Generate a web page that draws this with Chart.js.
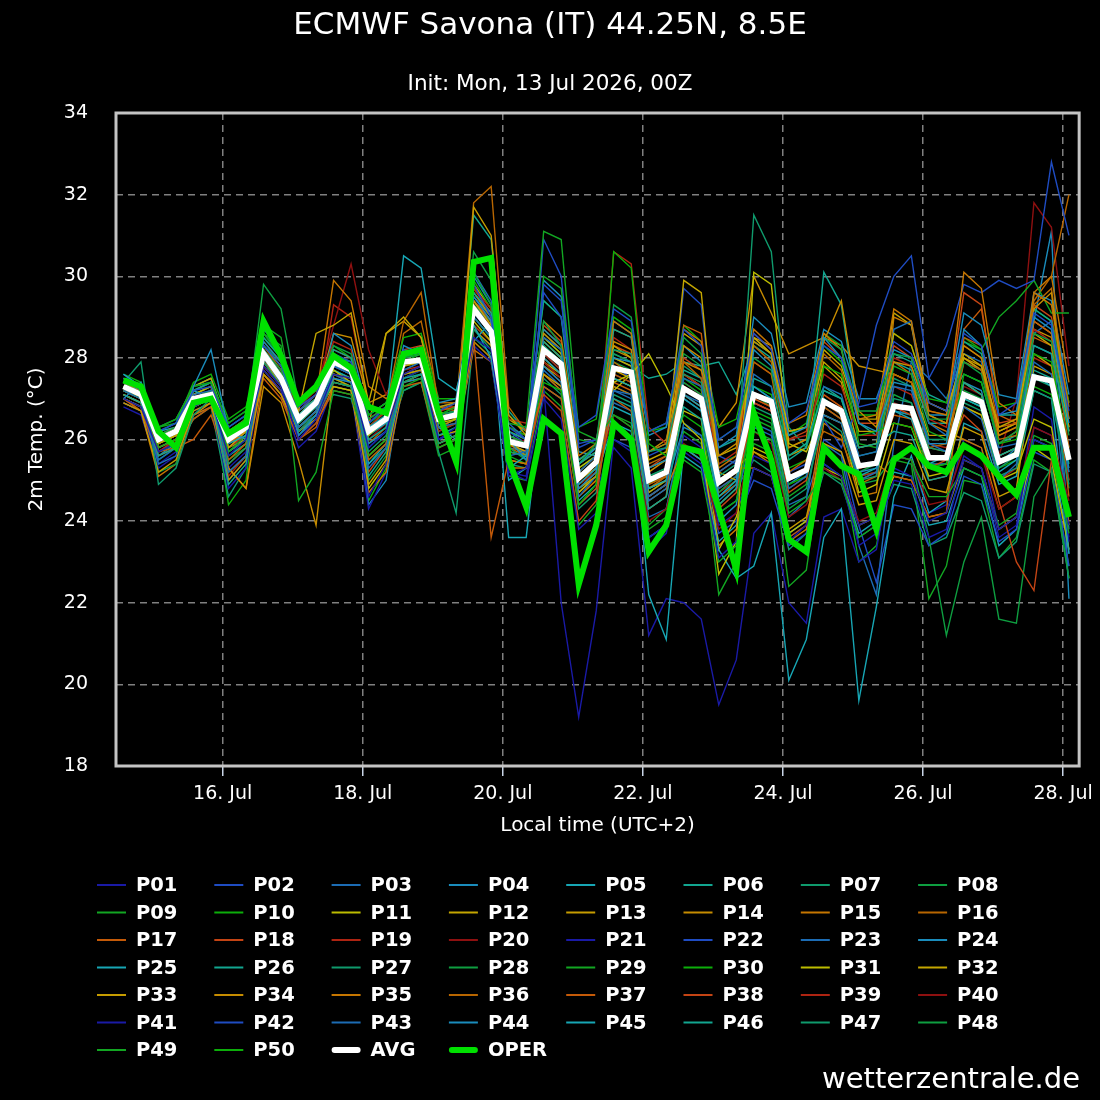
<!DOCTYPE html>
<html>
<head>
<meta charset="utf-8">
<title>ECMWF Savona (IT) ensemble</title>
<script src="https://cdn.jsdelivr.net/npm/chart.js@4.4.1/dist/chart.umd.min.js"></script>
<style>
  html, body { margin: 0; padding: 0; background: #000; }
  #wrap { width: 1100px; height: 1100px; }
</style>
</head>
<body>
<div id="wrap"><canvas id="ens" width="1100" height="1100"></canvas></div>
<script>
/* ECMWF ensemble plume, 2m temperature, Savona */
const FONT = "'DejaVu Sans', Verdana, sans-serif";

// hours since 14 Jul 00:00 local time, 6-hourly
const hours = [14, 20, 26, 32, 38, 44, 50, 56, 62, 68, 74, 80, 86, 92, 98, 104, 110, 116, 122, 128,
  134, 140, 146, 152, 158, 164, 170, 176, 182, 188, 194, 200, 206, 212, 218, 224, 230, 236, 242, 248,
  254, 260, 266, 272, 278, 284, 290, 296, 302, 308, 314, 320, 326, 332, 338];

const tickHours = [48, 96, 144, 192, 240, 288, 336];
const tickLabels = ['16. Jul', '18. Jul', '20. Jul', '22. Jul', '24. Jul', '26. Jul', '28. Jul'];

const memberNames = ['P01', 'P02', 'P03', 'P04', 'P05', 'P06', 'P07', 'P08', 'P09', 'P10',
  'P11', 'P12', 'P13', 'P14', 'P15', 'P16', 'P17', 'P18', 'P19', 'P20',
  'P21', 'P22', 'P23', 'P24', 'P25', 'P26', 'P27', 'P28', 'P29', 'P30',
  'P31', 'P32', 'P33', 'P34', 'P35', 'P36', 'P37', 'P38', 'P39', 'P40',
  'P41', 'P42', 'P43', 'P44', 'P45', 'P46', 'P47', 'P48', 'P49', 'P50'];

const avg = [27.3, 27.1, 26.0, 26.2, 27.0, 27.1, 26.0, 26.3, 28.1, 27.5, 26.5, 26.9, 27.9, 27.7, 26.2, 26.5,
  27.9, 27.95, 26.5, 26.6, 29.2, 28.65, 25.95, 25.85, 28.2, 27.85, 25.05, 25.45, 27.75, 27.65, 25.0, 25.2,
  27.25, 27.0, 24.95, 25.25, 27.1, 26.93, 25.05, 25.25, 26.93, 26.7, 25.35, 25.42, 26.82, 26.76, 25.55, 25.55,
  27.1, 26.92, 25.45, 25.63, 27.53, 27.44, 25.5];

const oper = [27.45, 27.3, 26.2, 25.8, 26.9, 27.0, 26.15, 26.4, 28.9, 28.05, 26.9, 27.3, 28.05, 27.75, 26.8, 26.65,
  28.1, 28.2, 26.65, 25.45, 30.35, 30.45, 25.5, 24.35, 26.5, 26.15, 22.45, 23.9, 26.4, 26.0, 23.25, 23.9,
  25.8, 25.7, 24.3, 22.8, 26.65, 25.5, 23.55, 23.25, 25.8, 25.35, 25.15, 23.8, 25.5, 25.8, 25.35, 25.2,
  25.85, 25.6, 25.1, 24.65, 25.8, 25.8, 24.1];

const P01 = [27.0,26.8,25.7,25.9, 26.8,27.0,25.6,26.0, 27.8,27.3,26.0,26.5, 27.6,27.5,25.8,26.2, 27.6,27.8,26.0,26.3, 28.5,28.2,25.2,25.0, 27.0,26.5,23.8,24.2, 26.3,26.0,23.3,23.7, 25.7,25.4,23.1,23.5, 25.3,25.1,23.5,23.9, 25.4,25.1,23.9,24.1, 25.3,25.1,24.0,24.2, 25.6,25.3,23.8,24.1, 26.0,25.8,23.9];
const P02 = [27.5,27.2,26.2,26.4, 27.2,27.3,26.3,26.6, 28.3,27.8,26.8,27.1, 28.1,27.9,26.4,26.8, 28.2,28.1,26.7,26.9, 29.8,29.0,26.3,26.0, 29.6,29.0,26.3,26.6, 29.2,28.9,26.2,26.4, 28.7,28.3,26.0,26.3, 28.6,28.2,26.4,26.7, 28.3,28.0,26.8,26.9, 28.4,28.1,26.9,26.7, 28.6,28.3,26.6,26.9, 29.1,28.8,26.7];
const P03 = [27.2,27.0,25.4,25.6, 27.1,27.2,25.2,25.6, 28.0,27.4,26.3,26.7, 27.8,27.6,25.3,25.8, 27.7,27.9,26.3,26.4, 29.0,28.5,25.6,25.7, 28.5,28.2,25.2,25.6, 27.2,27.0,24.6,24.9, 27.5,27.3,25.2,25.5, 27.6,27.3,24.8,25.1, 26.6,26.4,25.0,25.2, 27.3,27.2,25.9,25.7, 26.8,26.5,25.0,25.4, 27.9,27.6,25.2];
const P04 = [27.0,27.4,26.1,25.8, 27.3,28.2,26.2,26.0, 28.4,27.9,26.1,26.6, 27.5,27.4,25.9,26.2, 28.3,28.1,26.9,27.0, 29.5,28.9,26.0,25.5, 27.8,27.4,24.8,25.2, 28.0,27.9,25.3,25.5, 27.0,26.7,24.5,24.9, 28.2,27.8,26.1,26.3, 28.5,28.0,26.4,26.2, 27.4,27.3,25.9,25.9, 28.7,28.3,26.6,26.7, 29.0,28.7,26.4];
const P05 = [27.6,27.3,26.2,26.4, 27.2,27.0,25.9,26.1, 28.2,27.6,26.6,27.0, 27.9,27.7,26.3,26.6, 30.5,30.2,27.5,27.2, 28.8,28.0,25.3,25.6, 28.0,27.6,24.9,25.3, 27.5,27.3,24.8,25.0, 27.1,26.8,24.6,25.0, 27.3,27.0,25.0,25.2, 27.0,26.6,25.1,25.3, 26.7,26.5,25.4,25.6, 27.0,26.8,25.2,25.5, 27.6,27.3,25.3];
const P06 = [27.1,26.9,25.6,25.8, 26.9,27.1,24.9,25.4, 28.5,28.0,26.4,26.8, 28.2,28.0,25.1,25.7, 27.5,27.6,26.1,26.3, 29.6,29.1,26.2,26.0, 28.4,28.0,25.4,25.7, 27.0,26.8,24.3,24.6, 26.8,26.5,24.4,24.8, 27.5,27.3,25.6,25.9, 27.2,27.0,25.8,25.9, 26.2,26.1,25.0,25.1, 27.4,27.1,25.6,25.8, 28.3,28.1,26.2];
const P07 = [27.4,27.9,24.9,25.3, 26.6,27.0,25.4,25.8, 27.9,27.3,26.2,26.6, 27.4,27.3,25.7,26.1, 27.4,27.6,25.9,26.1, 28.7,28.2,25.7,25.6, 28.3,27.9,25.1,25.5, 28.2,28.1,25.7,25.8, 27.6,27.4,25.1,25.4, 26.8,26.6,24.5,24.8, 26.5,26.2,25.0,25.1, 27.0,26.9,25.8,25.7, 26.9,26.7,25.1,25.3, 27.2,27.0,24.9];
const P08 = [27.3,27.1,26.1,26.3, 27.0,27.2,26.0,26.4, 29.8,29.2,26.9,27.2, 28.3,28.1,26.5,26.8, 27.9,28.0,26.6,26.7, 30.1,29.3,26.1,25.9, 28.9,28.3,25.4,25.9, 29.3,29.0,26.2,26.4, 28.5,28.1,26.0,26.3, 28.0,27.7,25.6,25.9, 28.5,28.2,26.7,26.7, 28.1,28.0,26.5,26.5, 27.9,27.6,25.9,26.2, 28.6,28.4,26.1];
const P09 = [27.2,27.0,25.8,26.0, 26.9,27.1,25.7,26.1, 28.6,28.3,24.5,25.2, 27.2,27.1,25.6,26.0, 27.3,27.5,25.8,26.0, 29.1,28.7,26.4,26.3, 31.1,30.9,26.2,26.0, 26.6,26.3,23.8,24.1, 25.5,25.2,23.0,23.4, 26.2,26.0,24.2,24.5, 25.2,25.0,23.6,23.9, 25.6,25.5,24.6,24.6, 25.3,25.1,23.9,24.2, 26.1,25.9,23.7];
const P10 = [27.5,27.3,26.3,26.5, 27.3,27.4,26.4,26.7, 28.0,27.5,26.4,26.9, 28.0,27.8,26.6,26.9, 28.0,28.1,26.6,26.8, 29.0,28.5,26.0,25.8, 27.4,27.2,24.4,24.9, 30.6,30.2,25.9,25.6, 26.6,26.3,24.2,24.5, 26.7,26.5,24.9,25.1, 27.8,27.6,26.1,26.2, 26.4,26.3,25.3,25.4, 27.6,27.4,25.9,26.0, 28.1,27.9,25.7];
const P11 = [27.3,27.0,26.0,26.2, 27.1,27.3,26.1,26.4, 28.2,27.6,26.6,27.0, 27.7,27.4,26.1,26.5, 27.8,27.9,26.4,26.5, 29.3,28.7,26.0,25.8, 28.5,28.1,25.3,25.6, 27.4,27.6,28.1,27.3, 26.4,26.0,22.7,23.5, 30.1,29.8,25.9,25.7, 26.6,26.4,24.7,24.9, 26.4,26.3,25.1,25.2, 26.8,26.6,25.0,25.2, 26.5,26.3,23.9];
const P12 = [27.1,26.9,25.9,26.1, 26.8,27.0,25.8,26.2, 28.0,27.3,26.7,28.6, 28.8,29.1,26.9,28.6, 29.0,28.5,26.8,26.9, 29.4,28.8,25.9,25.7, 28.2,27.8,25.0,25.3, 28.3,28.0,25.5,25.7, 29.9,29.6,25.2,25.0, 28.5,28.1,26.2,26.3, 27.9,27.5,26.2,26.2, 28.6,28.3,26.9,26.7, 28.1,27.8,26.3,26.5, 28.6,28.3,26.3];
const P13 = [26.9,26.7,25.2,25.5, 26.7,26.9,25.0,25.5, 27.6,27.1,26.2,26.5, 27.5,27.3,24.9,25.5, 27.6,27.7,26.1,26.2, 31.7,31.0,26.6,26.1, 27.6,27.3,24.8,25.1, 27.5,27.3,24.7,25.0, 27.3,27.0,25.0,25.3, 25.7,25.5,23.8,24.1, 25.9,25.7,24.4,24.5, 26.0,25.9,24.8,24.7, 26.3,26.1,24.6,24.8, 27.8,27.6,25.6];
const P14 = [27.4,27.2,26.1,26.3, 26.6,26.9,25.3,24.8, 27.3,26.9,25.5,23.9, 27.6,27.5,25.6,26.0, 27.9,28.0,26.3,26.5, 29.6,29.0,25.9,25.6, 28.6,28.2,25.2,25.6, 28.4,28.2,25.2,25.5, 28.3,28.0,25.6,25.9, 28.4,28.1,25.8,26.0, 28.4,29.4,26.7,26.3, 27.9,27.8,26.6,26.4, 28.3,28.0,26.1,26.3, 29.2,29.6,26.2];
const P15 = [27.0,26.8,25.8,26.0, 26.9,27.1,25.9,26.2, 27.8,27.3,26.6,27.0, 29.9,29.4,27.3,27.0, 27.4,27.6,25.9,26.1, 28.4,28.0,25.5,25.4, 28.9,28.5,25.6,25.9, 28.9,28.6,25.7,25.9, 28.7,28.4,25.3,25.6, 28.7,28.3,26.4,26.6, 28.6,28.2,26.5,26.6, 29.2,28.9,26.7,26.6, 30.1,29.7,26.9,26.6, 29.6,29.3,26.8];
const P16 = [27.2,27.0,25.9,26.1, 27.0,27.2,26.0,26.4, 27.9,27.3,26.4,26.8, 28.2,28.0,26.5,26.8, 28.9,29.6,26.8,26.7, 31.8,32.2,26.8,26.2, 28.0,27.6,24.8,25.2, 27.9,27.6,24.9,25.1, 27.9,27.5,24.6,24.9, 27.9,27.6,25.2,25.5, 26.2,26.0,24.9,25.1, 27.6,27.4,25.8,25.7, 27.9,27.7,26.0,26.1, 29.3,29.7,26.5];
const P17 = [27.0,26.7,25.6,25.8, 26.5,26.8,25.5,25.9, 27.5,27.0,26.0,26.4, 27.2,27.1,25.5,25.9, 27.3,27.4,25.8,26.0, 28.5,23.6,25.5,25.4, 27.3,27.0,24.4,24.8, 27.0,26.7,24.3,24.6, 28.8,28.6,25.0,25.3, 25.3,25.1,23.6,23.9, 26.8,26.5,25.3,25.4, 25.1,25.0,24.1,24.2, 28.5,28.3,26.3,26.4, 28.9,28.6,25.8];
const P18 = [27.3,27.1,26.0,26.2, 27.1,27.3,26.0,26.3, 28.2,27.6,26.5,26.9, 27.9,27.7,25.2,25.8, 28.2,28.3,26.7,26.8, 29.4,28.9,26.1,25.9, 27.1,26.7,24.0,24.5, 27.6,27.4,24.6,24.9, 27.1,26.8,24.3,24.7, 26.9,26.7,24.7,25.0, 26.9,26.6,25.0,25.2, 26.8,26.6,25.3,25.5, 26.6,26.2,24.5,23.0, 22.3,25.5,24.0];
const P19 = [27.1,26.9,25.7,26.0, 26.9,27.1,25.8,26.1, 28.1,27.6,26.8,27.1, 28.4,28.2,26.3,26.7, 27.7,27.8,26.2,26.4, 29.7,29.2,26.5,26.4, 28.1,27.7,24.9,25.3, 30.6,30.3,26.3,25.9, 27.6,27.3,25.4,25.7, 27.9,27.6,26.0,26.1, 27.6,27.3,26.1,26.1, 28.0,27.8,26.5,26.3, 28.3,28.0,26.1,26.3, 28.7,28.4,26.2];
const P20 = [27.2,27.0,25.8,26.0, 26.9,27.2,25.9,26.2, 28.4,27.9,26.8,27.2, 28.8,30.3,28.2,27.1, 27.8,27.9,26.5,26.6, 29.2,28.8,25.8,26.0, 27.9,27.5,24.9,25.2, 26.6,26.3,24.0,24.3, 25.9,25.6,23.8,24.2, 26.2,25.9,24.1,24.4, 25.3,25.0,24.0,24.2, 25.6,25.5,24.4,24.5, 25.8,25.6,24.3,24.6, 26.3,26.1,24.5];
const P21 = [26.9,26.7,25.4,25.7, 26.7,26.9,24.8,25.3, 27.7,27.2,26.0,26.4, 27.5,27.4,24.6,25.4, 27.5,27.7,26.0,26.2, 28.3,27.9,25.1,25.3, 27.3,22.0,19.2,21.8, 26.0,25.7,23.6,23.9, 26.1,25.8,23.9,24.2, 25.6,25.4,23.6,23.9, 25.3,25.0,23.4,23.7, 25.0,24.9,23.6,23.8, 25.5,25.3,23.6,23.9, 26.3,26.1,23.6];
const P22 = [27.6,27.3,26.3,26.5, 27.3,27.4,26.4,26.7, 28.1,27.6,26.7,27.1, 27.8,27.6,26.4,26.8, 27.9,28.0,26.8,26.9, 29.1,28.6,26.2,25.9, 29.8,29.4,25.9,26.0, 27.8,27.5,25.6,25.8, 29.7,29.3,25.6,25.4, 27.3,27.0,25.2,25.4, 26.5,25.8,26.9,28.8, 30.0,30.5,27.5,28.3, 29.8,29.6,29.9,29.7, 29.9,32.8,31.0];
const P23 = [27.0,26.8,25.5,25.8, 27.0,27.2,25.0,25.5, 27.9,27.4,26.2,26.6, 27.6,27.4,25.8,26.2, 28.0,28.2,26.6,26.7, 30.1,29.4,26.4,26.0, 27.7,27.3,24.6,25.1, 27.2,27.1,24.5,24.8, 27.1,26.9,24.8,25.1, 26.4,26.2,24.1,24.5, 27.3,27.1,25.6,25.7, 28.7,28.9,26.4,26.1, 27.9,27.7,25.8,25.9, 28.6,28.9,23.8];
const P24 = [27.4,27.2,26.1,26.3, 27.0,27.1,25.8,26.1, 28.0,27.6,26.3,26.7, 28.6,28.3,26.6,26.9, 27.4,27.5,26.0,26.2, 30.0,29.3,26.0,26.3, 28.7,28.3,25.4,25.8, 28.9,28.6,26.1,26.3, 28.3,27.9,25.8,26.1, 29.0,28.6,26.8,26.9, 28.7,28.4,27.0,27.0, 28.2,28.0,26.6,26.6, 29.1,28.8,27.1,27.0, 29.6,29.4,27.1];
const P25 = [27.2,27.0,25.9,26.1, 27.1,27.3,26.0,26.3, 28.0,27.5,26.5,26.8, 27.7,27.5,26.1,26.4, 28.0,28.1,26.3,26.0, 28.4,28.9,23.6,23.6, 27.3,27.0,24.5,24.9, 26.8,26.6,22.2,21.1, 25.8,25.5,23.3,22.6, 22.9,24.2,20.1,21.1, 23.6,24.3,19.6,21.9, 24.6,25.6,24.2,24.5, 26.4,26.2,24.9,25.1, 27.2,27.0,23.2];
const P26 = [27.3,27.1,25.8,26.0, 27.2,27.4,25.6,25.9, 28.7,28.2,26.4,26.9, 27.8,27.6,26.0,26.3, 28.1,28.3,26.5,26.7, 31.5,30.9,26.7,26.2, 29.4,29.0,25.5,25.8, 28.7,28.5,25.7,25.9, 27.7,27.5,25.8,26.0, 28.4,28.1,25.5,25.8, 30.1,29.3,26.4,26.1, 27.9,27.7,26.4,26.4, 28.4,28.1,26.6,26.6, 29.2,28.9,26.5];
const P27 = [27.0,26.8,25.7,25.9, 26.8,27.0,25.7,26.0, 28.3,27.9,26.4,26.8, 28.0,27.9,26.2,26.6, 27.6,27.7,26.2,26.4, 29.3,28.9,26.0,25.9, 28.6,28.2,25.2,25.6, 28.1,27.9,25.1,25.3, 27.8,27.5,25.0,25.3, 31.5,30.6,26.3,25.8, 27.2,27.0,25.6,25.7, 27.5,27.3,26.0,26.0, 27.0,26.8,25.3,25.6, 27.5,27.3,25.2];
const P28 = [27.1,26.9,25.2,25.4, 26.9,27.1,25.6,25.9, 28.2,27.7,26.5,26.9, 27.6,27.4,25.0,25.6, 27.5,27.7,25.9,26.1, 29.6,29.0,25.8,25.5, 28.3,27.9,24.8,25.1, 27.9,27.7,24.7,25.0, 27.4,27.1,24.7,25.1, 26.6,26.4,24.3,24.6, 26.8,26.5,24.9,25.0, 25.6,25.5,23.6,21.2, 23.0,24.1,21.6,21.5, 24.6,25.3,22.6];
const P29 = [27.4,27.2,26.0,26.2, 27.2,27.4,26.2,26.5, 28.6,28.0,26.6,27.0, 28.1,27.9,26.4,26.7, 27.9,28.1,26.6,26.8, 29.0,28.5,25.6,25.4, 30.0,29.7,26.0,25.9, 27.6,27.4,24.9,25.2, 27.0,26.7,24.6,25.0, 26.5,26.3,24.6,24.9, 28.6,28.3,25.9,25.8, 27.8,27.6,26.2,26.0, 28.4,28.2,29.0,29.4, 29.9,29.1,29.1];
const P30 = [27.6,27.4,26.3,26.4, 27.4,27.6,26.5,26.8, 28.4,27.9,26.9,27.2, 28.3,28.0,26.6,26.9, 28.5,28.6,27.0,27.0, 29.9,29.2,26.3,26.1, 29.4,29.0,26.3,26.5, 29.0,28.7,26.2,26.3, 28.8,28.4,26.3,26.5, 28.4,28.1,26.1,26.4, 28.3,27.9,26.6,26.6, 28.6,28.3,27.0,26.9, 28.5,28.2,26.8,26.9, 29.2,28.9,26.9];
const P31 = [27.1,26.9,25.8,26.0, 26.9,27.1,25.2,25.6, 27.7,27.2,26.3,26.7, 27.3,27.2,24.8,25.4, 27.4,27.6,25.9,26.1, 28.9,28.4,25.7,25.6, 27.9,27.6,24.7,25.1, 27.2,27.6,24.8,25.0, 26.7,26.5,23.3,24.1, 25.8,25.6,23.7,24.0, 25.3,25.1,23.9,24.1, 25.1,25.0,24.1,24.2, 25.5,25.3,23.8,24.1, 25.8,25.5,23.3];
const P32 = [27.5,27.3,26.1,26.3, 27.3,27.5,26.2,26.5, 28.3,27.8,26.7,27.1, 28.1,27.8,26.3,26.7, 28.1,28.2,26.7,26.9, 29.8,29.2,26.5,26.2, 28.4,28.0,25.4,25.7, 28.0,27.8,25.3,25.5, 28.6,28.3,25.6,25.8, 28.5,28.1,26.2,26.3, 28.2,27.8,26.5,26.5, 29.1,28.8,26.9,26.7, 28.0,27.7,26.2,26.4, 28.9,28.6,26.3];
const P33 = [27.0,26.8,25.7,25.9, 26.8,27.0,25.8,26.0, 28.0,27.4,26.2,26.6, 27.4,27.3,26.3,28.6, 28.9,28.5,26.7,26.5, 28.7,28.3,25.9,25.8, 27.8,27.5,24.9,25.2, 27.7,27.5,24.6,24.9, 27.6,27.3,24.9,25.2, 28.5,28.3,25.6,25.8, 27.8,27.4,25.8,25.9, 27.6,27.4,26.1,26.1, 27.4,27.1,25.6,25.8, 28.1,27.8,25.8];
const P34 = [27.3,27.1,26.0,26.2, 27.0,27.2,26.1,26.4, 28.1,27.6,26.6,27.0, 28.6,28.5,26.9,27.1, 27.9,28.0,26.5,26.7, 29.4,28.9,26.2,26.0, 28.7,28.3,25.5,25.8, 28.2,28.0,25.7,26.0, 27.9,27.7,26.3,26.9, 30.0,29.1,28.1,28.3, 28.5,28.3,27.8,27.7, 27.6,27.4,26.6,26.4, 28.0,27.8,26.2,26.4, 28.7,28.5,26.5];
const P35 = [26.9,26.7,25.1,25.4, 26.6,26.8,25.4,25.8, 27.6,27.1,26.0,26.4, 27.3,27.2,24.7,25.2, 27.4,27.5,25.9,26.1, 28.2,27.9,25.3,25.3, 27.6,27.2,24.6,25.0, 27.3,27.1,24.5,24.8, 25.8,25.5,23.4,23.8, 25.7,25.4,23.5,23.8, 26.4,26.1,24.6,24.7, 29.0,28.8,26.4,26.2, 26.0,25.8,24.3,24.6, 29.6,30.0,27.4];
const P36 = [27.2,27.0,25.9,26.1, 26.9,27.1,25.7,26.0, 28.3,27.7,26.3,26.7, 27.8,27.6,25.9,26.3, 28.6,28.9,26.9,26.9, 29.4,28.8,25.8,25.6, 28.4,28.0,25.1,25.4, 28.7,28.5,25.4,25.6, 27.6,27.3,24.8,25.1, 28.3,27.9,25.8,26.0, 28.1,27.7,26.1,26.1, 27.9,27.6,25.8,25.9, 28.0,27.7,25.9,26.2, 29.4,30.0,32.0];
const P37 = [27.0,26.7,25.7,25.8, 26.0,26.6,25.3,24.8, 27.6,27.2,26.0,26.3, 27.6,27.4,25.6,26.0, 27.6,27.8,26.3,26.4, 29.2,28.7,25.9,25.7, 27.9,27.5,24.7,25.1, 27.4,27.2,24.8,25.1, 27.3,27.0,24.4,24.8, 27.0,26.8,25.0,25.3, 27.1,26.8,25.3,25.4, 26.6,26.5,25.0,25.1, 28.7,29.2,26.6,26.4, 28.5,28.3,24.6];
const P38 = [27.4,27.2,26.0,26.2, 27.2,27.4,26.2,26.5, 28.2,27.7,26.5,26.9, 28.0,27.8,26.2,26.6, 28.1,28.2,26.8,26.8, 29.7,29.1,26.3,26.1, 28.8,28.4,25.5,25.8, 28.3,28.1,25.3,25.6, 28.0,27.7,25.2,25.5, 28.6,28.2,26.0,26.2, 28.4,28.0,26.4,26.4, 28.3,28.0,26.7,26.6, 29.6,29.3,26.4,26.5, 29.3,29.0,26.9];
const P39 = [27.1,26.9,25.7,26.0, 26.8,27.0,25.1,25.6, 27.8,27.3,26.2,26.6, 29.3,29.0,26.8,26.7, 27.6,27.7,26.0,26.2, 28.8,28.4,25.7,25.6, 27.8,27.4,24.6,25.0, 28.5,28.2,24.8,25.0, 27.4,27.1,24.7,25.0, 26.9,26.7,24.8,25.1, 26.8,26.5,25.1,25.2, 27.3,27.1,25.9,25.8, 26.8,26.6,25.0,25.3, 28.0,27.8,25.0];
const P40 = [27.3,27.1,25.9,26.1, 27.0,27.2,25.9,26.2, 28.0,27.5,26.4,26.8, 27.8,27.6,26.0,26.4, 27.8,27.9,26.4,26.6, 29.1,28.6,25.9,25.9, 28.0,27.6,24.8,25.2, 27.6,27.4,24.9,25.1, 27.1,26.8,24.8,25.1, 27.0,26.8,25.1,25.3, 27.1,26.8,25.3,25.4, 26.9,26.7,25.5,25.5, 27.3,27.1,25.6,27.0, 31.8,31.2,27.8];
const P41 = [26.8,26.6,25.3,25.6, 26.6,26.8,25.3,25.7, 27.6,27.1,25.8,26.2, 27.3,27.2,24.3,25.2, 27.4,27.6,25.9,26.1, 28.7,28.3,25.2,25.1, 27.6,27.2,24.4,24.8, 25.8,25.3,21.2,22.1, 22.0,21.6,19.5,20.6, 23.7,24.2,22.0,21.5, 24.1,24.3,23.0,23.3, 25.6,25.5,24.2,24.4, 26.0,25.8,23.8,24.1, 26.8,26.5,23.5];
const P42 = [27.1,26.9,25.8,26.0, 26.9,27.1,25.8,26.2, 27.9,27.4,26.3,26.7, 27.6,27.5,26.1,26.5, 27.6,27.8,26.3,26.5, 29.0,28.5,25.9,25.8, 30.9,30.0,25.8,26.0, 26.0,25.8,23.6,23.9, 25.8,25.5,23.7,24.0, 25.0,24.8,23.4,23.7, 26.0,25.7,23.9,22.5, 24.4,24.3,23.4,23.7, 25.1,24.9,23.5,23.8, 25.7,25.5,22.9];
const P43 = [27.3,27.1,26.0,26.2, 27.0,27.2,25.9,26.2, 28.2,27.7,26.6,27.0, 27.9,27.7,26.2,26.6, 28.0,28.1,26.5,26.6, 29.3,28.8,25.8,25.7, 28.3,27.9,24.9,25.3, 26.9,26.7,24.1,24.3, 26.4,26.1,24.2,24.5, 26.3,26.1,24.4,24.6, 25.9,25.6,23.4,22.2, 25.9,27.9,27.5,27.0, 28.1,27.9,25.6,25.8, 28.3,28.1,23.2];
const P44 = [27.0,26.8,25.6,25.9, 27.2,27.4,25.7,26.0, 27.9,27.5,26.1,26.5, 27.4,27.3,24.4,25.0, 27.7,27.9,26.5,26.7, 29.5,29.0,26.0,25.6, 29.9,29.5,25.7,25.6, 27.3,27.1,24.6,24.9, 26.3,26.1,24.0,24.4, 26.9,26.7,24.9,25.2, 26.6,26.4,25.2,25.3, 26.7,26.6,25.4,25.4, 27.4,27.2,25.4,25.8, 28.9,31.1,22.1];
const P45 = [27.5,27.3,26.2,26.3, 27.3,27.5,26.3,26.6, 28.1,27.6,26.6,27.0, 27.9,27.7,25.4,25.9, 28.0,28.1,26.4,26.6, 29.1,28.6,25.0,25.3, 27.8,27.4,24.7,25.1, 26.4,26.2,23.6,23.9, 25.6,25.3,23.5,23.9, 25.3,25.1,23.7,24.0, 25.4,25.1,23.7,24.0, 25.2,25.1,23.9,24.0, 25.3,25.1,23.4,23.8, 26.0,25.8,23.3];
const P46 = [27.2,27.0,25.9,26.1, 27.0,27.2,26.0,26.3, 28.3,27.8,26.7,27.0, 28.0,27.8,26.3,26.7, 27.9,28.0,26.6,26.7, 29.4,28.9,26.1,25.9, 28.1,27.7,25.0,25.4, 28.0,27.8,27.5,27.6, 27.9,27.8,27.9,27.1, 28.3,28.0,26.2,26.3, 27.3,27.0,25.8,25.9, 28.1,27.9,27.1,26.9, 27.6,27.4,25.9,26.1, 27.7,27.5,25.4];
const P47 = [26.9,26.7,25.5,25.8, 26.5,26.8,24.6,25.3, 28.6,28.1,26.3,26.6, 27.1,27.0,25.4,25.8, 27.2,27.4,25.7,24.2, 28.5,28.1,25.4,25.3, 27.5,27.1,24.3,24.7, 27.1,26.9,24.3,24.6, 27.0,26.7,24.4,24.8, 25.5,25.2,23.3,23.7, 25.2,24.9,23.6,23.9, 24.9,24.8,23.4,23.6, 24.7,24.5,23.1,23.5, 25.4,25.2,22.6];
const P48 = [27.4,27.2,26.1,26.3, 27.1,27.3,26.1,26.4, 28.0,27.5,26.5,26.9, 27.7,27.5,26.2,26.5, 27.8,27.9,26.3,26.5, 30.6,29.9,26.6,26.2, 28.5,28.1,25.3,25.6, 28.1,27.9,25.1,25.3, 28.1,27.8,25.4,25.6, 27.1,26.8,25.0,25.3, 27.0,26.7,25.2,25.4, 27.1,26.9,25.6,25.6, 27.2,27.0,25.5,25.7, 27.6,27.4,24.8];
const P49 = [27.2,27.0,25.7,25.9, 26.8,27.0,25.5,25.8, 28.8,28.5,26.3,26.7, 27.5,27.3,25.5,25.9, 27.2,27.4,25.6,25.8, 28.4,28.0,25.1,25.0, 27.2,26.8,23.9,24.4, 26.6,26.4,23.9,24.3, 26.2,25.9,22.2,23.0, 25.9,25.7,22.4,22.8, 25.7,25.4,23.0,23.4, 25.5,25.4,22.1,22.9, 25.0,24.9,23.1,23.6, 25.5,25.2,22.9];
const P50 = [27.3,27.1,25.9,26.1, 27.0,27.2,24.4,25.0, 28.5,28.0,26.6,27.0, 27.6,27.4,24.5,25.3, 27.5,27.7,26.2,26.4, 28.8,28.4,25.5,25.4, 28.2,27.8,25.1,25.4, 27.5,27.3,24.8,25.1, 27.5,27.2,25.0,25.3, 27.3,27.1,25.3,25.5, 26.9,26.6,25.1,25.2, 26.7,26.6,25.3,25.4, 27.0,26.8,25.3,25.5, 27.3,27.1,25.0];

const members = [P01, P02, P03, P04, P05, P06, P07, P08, P09, P10, P11, P12, P13, P14, P15, P16, P17, P18, P19, P20,
  P21, P22, P23, P24, P25, P26, P27, P28, P29, P30, P31, P32, P33, P34, P35, P36, P37, P38, P39, P40,
  P41, P42, P43, P44, P45, P46, P47, P48, P49, P50];

// colour cycle repeats every 20 members
const palette = ['#1a1aa6', '#1f4cc2', '#1c6cb4', '#1a8cbc', '#17a6b4', '#12a690', '#0f9a6c', '#0e9e40',
  '#12a622', '#0cae0a', '#bcbc00', '#c4a600', '#c69c00', '#c68c00', '#c67600', '#b86600',
  '#c45a08', '#c44414', '#ae2412', '#8e1010'];

const toXY = (vals) => vals.map((v, i) => ({ x: hours[i], y: v }));

const datasets = members.map((vals, k) => ({
  label: memberNames[k],
  data: toXY(vals),
  borderColor: palette[k % palette.length],
  borderWidth: 1.4,
  order: 2,
}));
datasets.push({ label: 'AVG', data: toXY(avg), borderColor: '#ffffff', borderWidth: 5.5, order: 1 });
datasets.push({ label: 'OPER', data: toXY(oper), borderColor: '#00e000', borderWidth: 6, order: 0 });

const blackBg = {
  id: 'blackBg',
  beforeDraw(chart) {
    const { ctx, width, height } = chart;
    ctx.save();
    ctx.fillStyle = '#000';
    ctx.fillRect(0, 0, width, height);
    ctx.restore();
  },
};

const frame = {
  id: 'frame',
  afterDatasetsDraw(chart) {
    const { ctx, chartArea: a } = chart;
    ctx.save();
    ctx.strokeStyle = '#c4c4c4';
    ctx.lineWidth = 3;
    ctx.strokeRect(a.left, a.top, a.right - a.left, a.bottom - a.top);
    ctx.restore();
  },
};

// 8-column legend under the plot plus the site name
const gridLegend = {
  id: 'gridLegend',
  afterDraw(chart) {
    const { ctx } = chart;
    ctx.save();
    ctx.font = `bold 19.5px ${FONT}`;
    ctx.textBaseline = 'middle';
    ctx.textAlign = 'left';
    chart.data.datasets.forEach((ds, k) => {
      const col = k % 8, row = Math.floor(k / 8);
      const x = 97 + col * 117.3, y = 885 + row * 27.5;
      const thick = ds.borderWidth > 3;
      ctx.strokeStyle = ds.borderColor;
      ctx.lineWidth = thick ? 6 : 2;
      ctx.lineCap = thick ? 'round' : 'butt';
      ctx.beginPath();
      ctx.moveTo(thick ? x + 3 : x, y);
      ctx.lineTo(thick ? x + 26 : x + 29, y);
      ctx.stroke();
      ctx.fillStyle = '#fff';
      ctx.fillText(ds.label, x + 39, y + 1);
    });
    ctx.font = `29px ${FONT}`;
    ctx.textAlign = 'right';
    ctx.fillText('wetterzentrale.de', 1080, 1080);
    ctx.restore();
  },
};

new Chart(document.getElementById('ens'), {
  type: 'line',
  data: { datasets },
  options: {
    responsive: false,
    animation: false,
    layout: { padding: { left: 18, right: 18, top: 0, bottom: 254 } },
    elements: { point: { radius: 0 }, line: { tension: 0, fill: false } },
    plugins: {
      legend: { display: false },
      tooltip: { enabled: false },
      title: {
        display: true, text: 'ECMWF Savona (IT) 44.25N, 8.5E', color: '#fff',
        font: { family: FONT, size: 31, weight: 'normal' }, padding: { top: 7, bottom: 27 },
      },
      subtitle: {
        display: true, text: 'Init: Mon, 13 Jul 2026, 00Z', color: '#fff',
        font: { family: FONT, size: 21.5 }, padding: { top: 0, bottom: 16 },
      },
    },
    scales: {
      x: {
        type: 'linear', min: 11.44, max: 341.5,
        afterBuildTicks: (s) => { s.ticks = tickHours.map((v) => ({ value: v })); },
        afterFit: (s) => { s.height = 80; },
        ticks: {
          color: '#fff', font: { family: FONT, size: 19 }, padding: 7, maxRotation: 0, autoSkip: false,
          callback: (v) => tickLabels[tickHours.indexOf(v)],
        },
        grid: { color: '#808080', lineWidth: 1.5, tickLength: 10, tickColor: '#c8d4e6', tickWidth: 1.5, tickBorderDash: [] },
        border: { display: false, dash: [7, 5] },
        title: {
          display: true, text: 'Local time (UTC+2)', color: '#fff',
          font: { family: FONT, size: 20 }, padding: { top: 0, bottom: 8 },
        },
      },
      y: {
        min: 18, max: 34,
        afterFit: (s) => { s.width = 98; },
        ticks: { stepSize: 2, color: '#fff', font: { family: FONT, size: 19 }, padding: 28 },
        grid: { color: '#808080', lineWidth: 1.5, drawTicks: false },
        border: { display: false, dash: [7, 5] },
        title: {
          display: true, text: '2m Temp. (°C)', color: '#fff',
          font: { family: FONT, size: 20 }, padding: { top: 7, bottom: 0 },
        },
      },
    },
  },
  plugins: [blackBg, frame, gridLegend],
});
</script>
</body>
</html>
